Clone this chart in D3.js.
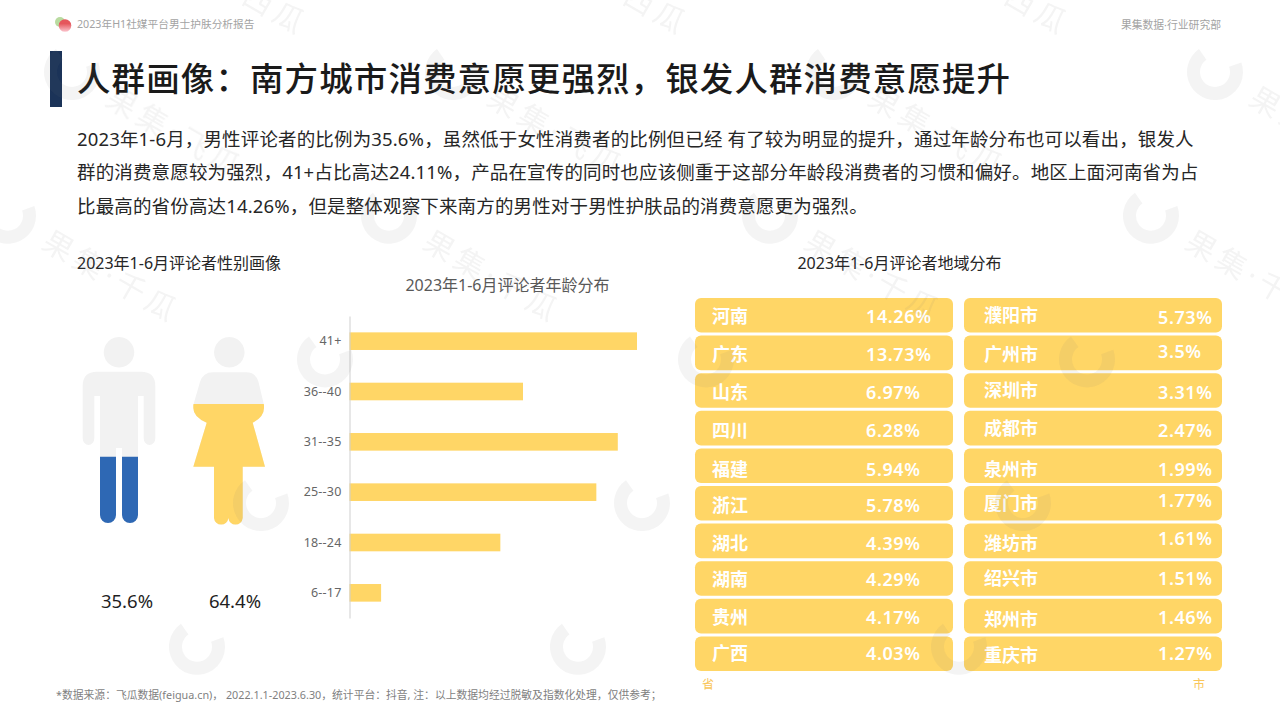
<!DOCTYPE html>
<html>
<head>
<meta charset="utf-8">
<script src="https://cdn.jsdelivr.net/npm/d3@7/dist/d3.min.js"></script>
<style>
  html, body { margin: 0; background: #fff; }
  text { font-family: "Noto Sans", "Noto Sans CJK SC", sans-serif; }
</style>
</head>
<body>
<svg id="chart" width="1280" height="720"></svg>
<script>
// Values.
const bodyLines = [
  "2023年1-6月，男性评论者的比例为35.6%，虽然低于女性消费者的比例但已经 有了较为明显的提升，通过年龄分布也可以看出，银发人",
  "群的消费意愿较为强烈，41+占比高达24.11%，产品在宣传的同时也应该侧重于这部分年龄段消费者的习惯和偏好。地区上面河南省为占",
  "比最高的省份高达14.26%，但是整体观察下来南方的男性对于男性护肤品的消费意愿更为强烈。",
];

const genderValues = [35.6, 64.4];

const ageLabels = ["41+", "36--40", "31--35", "25--30", "18--24", "6--17"];
const ageValues = [24.11, 14.55, 22.5, 20.7, 12.65, 2.65];

const provinces = ["河南", "广东", "山东", "四川", "福建", "浙江", "湖北", "湖南", "贵州", "广西"];
const provinceValues = ["14.26%", "13.73%", "6.97%", "6.28%", "5.94%", "5.78%", "4.39%", "4.29%", "4.17%", "4.03%"];
const cities = ["濮阳市", "广州市", "深圳市", "成都市", "泉州市", "厦门市", "潍坊市", "绍兴市", "郑州市", "重庆市"];
const cityValues = ["5.73%", "3.5%", "3.31%", "2.47%", "1.99%", "1.77%", "1.61%", "1.51%", "1.46%", "1.27%"];

// The text boxes in the original sit a little off centre in their cards.
const provinceNudge = [1, 1.5, 2.5, 2.5, 3.5, 2.5, 2.5, 1.5, 1.5, 0];
const cityNameNudge = [0, 1.5, 0, 0, 3.5, 0, 2.5, 0, 3.5, 1.5];
const cityValueNudge = [2, -1.5, 2.5, 2.5, 3.5, -2.5, -2.5, 0, 1.5, 0];

const YELLOW = "#ffd666";
const BLUE = "#2e68b4";
const ICON_GREY = "#f2f2f2";

const svg = d3.select("#chart");

// Small helper for all the plain text on the page.
function label(x, y, str, size, color, opts = {}) {
  return svg.append("text")
    .attr("x", x)
    .attr("y", y)
    .attr("dy", "0.36em")
    .attr("font-size", size)
    .attr("fill", color)
    .attr("font-weight", opts.weight || 400)
    .attr("letter-spacing", opts.spacing || 0)
    .attr("text-anchor", opts.anchor || "start")
    .text(str);
}

// Header
svg.append("circle").attr("cx", 60).attr("cy", 22).attr("r", 5).attr("fill", "#b9dba0");
const peach = svg.append("defs").append("linearGradient")
  .attr("id", "peach").attr("x1", 0).attr("y1", 0).attr("x2", 0).attr("y2", 1);
peach.append("stop").attr("offset", "35%").attr("stop-color", "#e5565c");
peach.append("stop").attr("offset", "100%").attr("stop-color", "#fbc6cf");
svg.append("circle").attr("cx", 65).attr("cy", 25.5).attr("r", 6.3).attr("fill", "url(#peach)");
label(77, 24, "2023年H1社媒平台男士护肤分析报告", 10.7, "#a3a3a3");
label(1221, 25.5, "果集数据·行业研究部", 10.8, "#a3a3a3", { anchor: "end" });

// Title
svg.append("rect").attr("x", 50).attr("y", 51).attr("width", 12).attr("height", 56).attr("fill", "#1b3358");
label(77, 79, "人群画像：南方城市消费意愿更强烈，银发人群消费意愿提升", 33.5, "#1a1a1a", { weight: 500, spacing: 1.1 });

// Paragraph
bodyLines.forEach((line, i) => label(77, 139 + i * 33.5, line, 18.5, "#262626", { spacing: 0.15 }));

// Section titles
label(77, 263, "2023年1-6月评论者性别画像", 16, "#262626");
label(507.5, 285, "2023年1-6月评论者年龄分布", 16, "#595959", { anchor: "middle" });
label(899.5, 263, "2023年1-6月评论者地域分布", 16, "#262626", { anchor: "middle" });

// Gender pictograms. Each one is a grey figure with a coloured copy clipped at the share.
const manPath = "M119 337a15.3 15.3 0 1 1 -0.01 0Z" +
  "M97 371.7H141Q155.3 371.7 155.3 386V438.5a5.8 6.5 0 0 1 -11.6 0V396H138V515a8 8 0 0 1 -16 0V448H116V515a8 8 0 0 1 -16 0V396H94.3V438.5a5.8 6.5 0 0 1 -11.6 0V386Q82.7 371.7 97 371.7Z";
const womanPath = "M229.3 337a15.3 15.3 0 1 1 -0.01 0Z" +
  "M213 372.3H246Q256 372.3 258.5 382L264 405V408Q264 417 252.7 422.7L265 466.7H242.7V518a7.2 7.2 0 0 1 -14.35 0a7.2 7.2 0 0 1 -14.35 0V466.7H193.3L206.7 422.7Q193.3 417 193.3 408V405L200 382Q203 372.3 213 372.3Z";

const figures = [
  { path: manPath, color: BLUE, bottom: 523, x: 127 },
  { path: womanPath, color: YELLOW, bottom: 525, x: 235 },
];

const defs = svg.select("defs");
figures.forEach((f, i) => {
  // Figure height runs from the top of the head (0%) to the feet (100%).
  const level = d3.scaleLinear().domain([0, 100]).range([f.bottom, 337]);
  defs.append("clipPath").attr("id", `fill-${i}`)
    .append("rect")
    .attr("x", 60)
    .attr("width", 240)
    .attr("y", level(genderValues[i]))
    .attr("height", f.bottom - level(genderValues[i]) + 2);
  svg.append("path").attr("d", f.path).attr("fill", ICON_GREY);
  svg.append("path").attr("d", f.path).attr("fill", f.color).attr("clip-path", `url(#fill-${i})`);
  label(f.x, 601, `${genderValues[i]}%`, 18.5, "#1f1f1f", { anchor: "middle" });
});

// Age bars
const ageX = d3.scaleLinear().domain([0, 24.11]).range([349.5, 637]);
const ageY = d3.scaleBand().domain(ageLabels).range([316, 618]).padding(0.65).paddingOuter(0.325);

svg.append("g").selectAll("rect")
  .data(ageValues)
  .join("rect")
  .attr("x", ageX(0))
  .attr("y", (d, i) => ageY(ageLabels[i]))
  .attr("width", (d) => ageX(d) - ageX(0))
  .attr("height", ageY.bandwidth())
  .attr("fill", YELLOW);

const ageAxis = svg.append("g")
  .attr("transform", `translate(${ageX(0)},0)`)
  .call(d3.axisLeft(ageY).tickSize(0).tickPadding(8));
ageAxis.select(".domain").attr("stroke", "#cfcfcf");
ageAxis.attr("font-family", null);
ageAxis.selectAll("text")
  .attr("font-size", 12.5)
  .attr("letter-spacing", 0.2)
  .attr("fill", "#666")
  .style("font-variant-ligatures", "none");

// Region cards, one column of provinces and one of cities
const rowY = d3.scaleBand().domain(d3.range(10)).range([298, 671]).paddingInner(0.08);

function drawColumn(x, names, values, nameX, valueX, nameNudge, valueNudge) {
  const g = svg.append("g");
  g.selectAll("rect")
    .data(names)
    .join("rect")
    .attr("x", x)
    .attr("y", (d, i) => rowY(i))
    .attr("width", 258)
    .attr("height", rowY.bandwidth())
    .attr("rx", 6)
    .attr("fill", YELLOW);
  const mid = (i) => rowY(i) + rowY.bandwidth() / 2;
  g.selectAll("text.name")
    .data(names)
    .join("text")
    .attr("class", "name")
    .attr("x", nameX)
    .attr("y", (d, i) => mid(i) + nameNudge[i])
    .attr("dy", "0.36em")
    .attr("font-size", 18)
    .attr("font-weight", 700)
    .attr("fill", "#fff")
    .text((d) => d);
  g.selectAll("text.value")
    .data(values)
    .join("text")
    .attr("class", "value")
    .attr("x", valueX)
    .attr("y", (d, i) => mid(i) + valueNudge[i])
    .attr("dy", "0.36em")
    .attr("font-size", 18)
    .attr("font-weight", 600)
    .attr("letter-spacing", 0.6)
    .attr("fill", "#fff")
    .text((d) => d);
}

drawColumn(695, provinces, provinceValues, 712, 866, provinceNudge, provinceNudge);
drawColumn(964, cities, cityValues, 984, 1158, cityNameNudge, cityValueNudge);

label(708, 684.5, "省", 12, "#f9c65a", { anchor: "middle" });
label(1199, 684.5, "市", 12, "#f9c65a", { anchor: "middle" });

// Footnote
label(56, 695, "*数据来源：飞瓜数据(feigua.cn)， 2022.1.1-2023.6.30，统计平台：抖音, 注：以上数据均经过脱敏及指数化处理，仅供参考；", 10.8, "#7f7f7f");

// Watermark lattice laid over the whole page.
const markNames = ["果集·西瓜", "果集·飞瓜", "果集·千瓜"];
const markArc = d3.arc().innerRadius(15).outerRadius(28)
  .startAngle((70 * Math.PI) / 180).endAngle((325 * Math.PI) / 180);
const marks = svg.append("g").attr("opacity", 0.08).attr("pointer-events", "none");
for (let row = -1; row <= 4; row++) {
  for (let col = -1; col <= 4; col++) {
    const x = 72 + col * 381 - row * 64;
    const y = 72 + row * 143.7;
    const m = marks.append("g").attr("transform", `translate(${x},${y})`);
    m.append("path").attr("d", markArc).attr("fill", "#777");
    m.append("text")
      .attr("transform", "translate(32,32) rotate(30)")
      .attr("font-size", 30)
      .attr("letter-spacing", 5)
      .attr("fill", "#777")
      .text(markNames[row + 1]);
  }
}
</script>
</body>
</html>
